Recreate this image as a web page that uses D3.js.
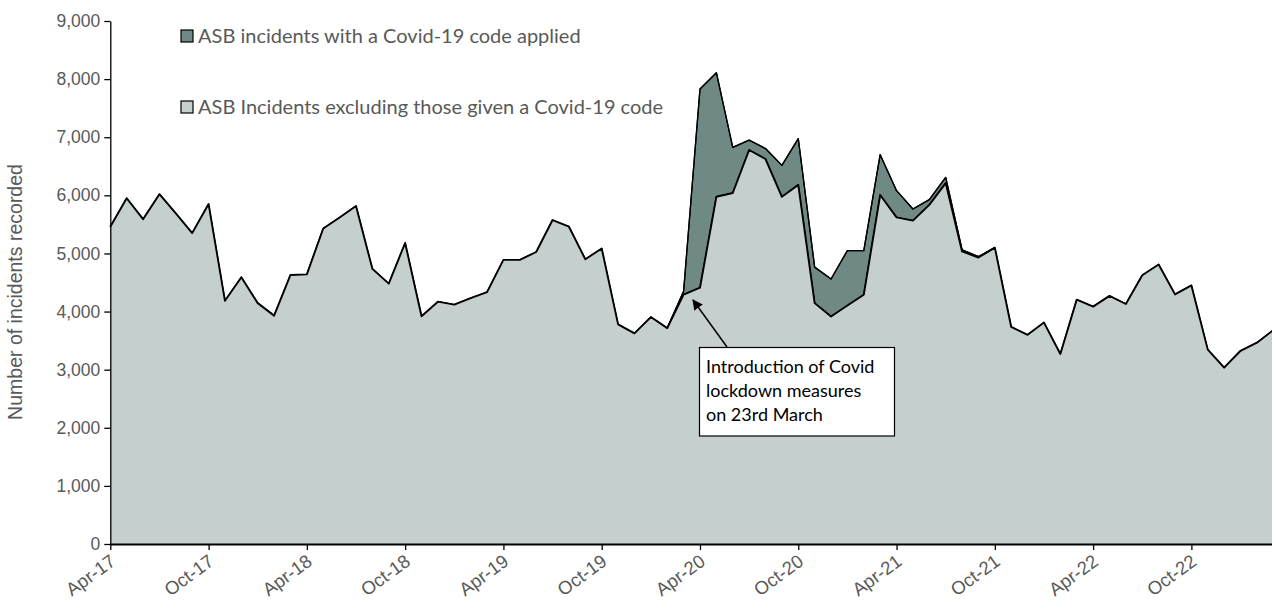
<!DOCTYPE html>
<html><head><meta charset="utf-8">
<script src="https://cdn.jsdelivr.net/npm/d3@7"></script>
<style>body{margin:0;background:#fff}svg{display:block}</style>
</head><body>
<svg id="c" width="1272" height="601"></svg>
<script>
const months = ["Apr-17","May-17","Jun-17","Jul-17","Aug-17","Sep-17","Oct-17","Nov-17","Dec-17","Jan-18","Feb-18","Mar-18",
"Apr-18","May-18","Jun-18","Jul-18","Aug-18","Sep-18","Oct-18","Nov-18","Dec-18","Jan-19","Feb-19","Mar-19",
"Apr-19","May-19","Jun-19","Jul-19","Aug-19","Sep-19","Oct-19","Nov-19","Dec-19","Jan-20","Feb-20","Mar-20",
"Apr-20","May-20","Jun-20","Jul-20","Aug-20","Sep-20","Oct-20","Nov-20","Dec-20","Jan-21","Feb-21","Mar-21",
"Apr-21","May-21","Jun-21","Jul-21","Aug-21","Sep-21","Oct-21","Nov-21","Dec-21","Jan-22","Feb-22","Mar-22",
"Apr-22","May-22","Jun-22","Jul-22","Aug-22","Sep-22","Oct-22","Nov-22","Dec-22","Jan-23","Feb-23","Mar-23"];
const excludingCovid = [5460,5950,5590,6020,5690,5350,5850,4185,4590,4145,3930,4630,
4640,5430,5620,5815,4735,4480,5180,3920,4170,4120,4230,4335,
4890,4890,5025,5575,5460,4900,5085,3780,3625,3905,3715,4290,
4410,5975,6040,6780,6625,5975,6180,4145,3915,4105,4290,6005,
5620,5565,5835,6210,5035,4930,5100,3735,3600,3810,3270,4205,
4085,4270,4130,4625,4810,4295,4450,3345,3035,3325,3465,3680];
const covidCode = [0,0,0,0,0,0,0,0,0,0,0,0,
0,0,0,0,0,0,0,0,0,0,0,0,
0,0,0,0,0,0,0,0,0,0,0,60,
3420,2135,785,170,180,540,795,620,645,945,760,695,
460,200,92,98,28,17,0,0,0,0,0,0,
0,0,0,0,0,0,0,0,0,0,0,0];
const tickLabels = ["Apr-17","Oct-17","Apr-18","Oct-18","Apr-19","Oct-19","Apr-20","Oct-20","Apr-21","Oct-21","Apr-22","Oct-22"];
const yTicks = [0,1000,2000,3000,4000,5000,6000,7000,8000,9000];
const seriesNames = ["ASB incidents with a Covid-19 code applied","ASB Incidents excluding those given a Covid-19 code"];
const annotationLines = ["Introduction of Covid","lockdown measures","on 23rd March"];

const lightFill = "#c5cfcd", darkFill = "#6f8a84", textGrey = "#595959";
const svg = d3.select("#c");
const x = d3.scalePoint().domain(months).range([110.3, 1273.3]);
const y = d3.scaleLinear().domain([0, 9000]).range([544, 21]);

const data = months.map((m, i) => ({m, base: excludingCovid[i], top: excludingCovid[i] + covidCode[i]}));

svg.append("path").datum(data)
  .attr("d", d3.area().x(d => x(d.m)).y0(d => y(d.base)).y1(d => y(d.top)))
  .attr("fill", darkFill).attr("stroke", "#000").attr("stroke-width", 1.3).attr("stroke-linejoin","round");
svg.append("path").datum(data)
  .attr("d", d3.area().x(d => x(d.m)).y0(y(0)).y1(d => y(d.base)))
  .attr("fill", lightFill);
svg.append("path").datum(data)
  .attr("d", d3.line().x(d => x(d.m)).y(d => y(d.base)))
  .attr("fill", "none").attr("stroke", "#000").attr("stroke-width", 1.9).attr("stroke-linejoin","round");
svg.append("path").datum(data)
  .attr("d", d3.line().defined((d,i)=> covidCode[i] > 0 || covidCode[i-1] > 0 || covidCode[i+1] > 0).x(d => x(d.m)).y(d => y(d.top)))
  .attr("fill", "none").attr("stroke", "#000").attr("stroke-width", 1.3).attr("stroke-linejoin","round");

// Y axis
const yAxis = svg.append("g").attr("transform", "translate(110.3,0)")
  .call(d3.axisLeft(y).tickValues(yTicks).tickFormat(d3.format(",")).tickSize(6).tickSizeOuter(0));
yAxis.select(".domain").attr("stroke", "#000").attr("stroke-width", 1.3);
yAxis.selectAll(".tick line").attr("stroke", "#000").attr("stroke-width", 1.3);
yAxis.selectAll(".tick text").attr("fill", textGrey).attr("font-family", "Liberation Sans, Arial, sans-serif")
  .attr("font-size", 17.5).attr("x", -10);

// X axis
const xAxis = svg.append("g").attr("transform", "translate(0,544)")
  .call(d3.axisBottom(x).tickValues(tickLabels).tickSize(6).tickSizeOuter(0));
xAxis.select(".domain").attr("stroke", "#000").attr("stroke-width", 2);
xAxis.selectAll(".tick line").attr("stroke", "#000").attr("stroke-width", 1.3);
xAxis.selectAll(".tick text").attr("fill", textGrey).attr("font-family", "Liberation Sans, Arial, sans-serif")
  .attr("font-size", 18.5).attr("text-anchor", "end").attr("dy", null)
  .attr("x", 0).attr("y", 0)
  .attr("transform", "translate(6,20) rotate(-36)");

// Y title
svg.append("text").attr("transform", "translate(22,292) rotate(-90)").attr("text-anchor", "middle")
  .attr("fill", textGrey).attr("font-family", "Liberation Sans, Arial, sans-serif").attr("font-size", 19.5)
  .text("Number of incidents recorded");

// Legend
const legend = svg.append("g");
[darkFill, lightFill].forEach((c, i) => {
  const ly = [36, 107][i];
  legend.append("rect").attr("x", 181).attr("y", ly - 6).attr("width", 12).attr("height", 12)
    .attr("fill", c).attr("stroke", "#000").attr("stroke-width", 1.2);
  legend.append("text").attr("x", 198).attr("y", ly + 7).attr("fill", textGrey)
    .attr("font-family", "Lato, Carlito, Calibri, sans-serif").attr("font-size", 20).text(seriesNames[i]);
});

// Annotation
const ann = svg.append("g");
svg.append("defs").append("marker").attr("id", "arr").attr("viewBox", "0 0 10 10").attr("refX", 9).attr("refY", 5)
  .attr("markerWidth", 7).attr("markerHeight", 7).attr("orient", "auto")
  .append("path").attr("d", "M0,0 L10,5 L0,10 z").attr("fill", "#000");
ann.append("line").attr("x1", 727).attr("y1", 347).attr("x2", 693).attr("y2", 300)
  .attr("stroke", "#000").attr("stroke-width", 1.5).attr("marker-end", "url(#arr)");
ann.append("rect").attr("x", 699.5).attr("y", 347.5).attr("width", 195).attr("height", 88.5)
  .attr("fill", "#fff").attr("stroke", "#000").attr("stroke-width", 1.2);
annotationLines.forEach((t, i) => {
  ann.append("text").attr("x", 706).attr("y", 373 + i * 24).attr("fill", "#000")
    .attr("font-family", "Lato, Carlito, Calibri, sans-serif").attr("font-size", 18).text(t);
});
</script>
</body></html>
